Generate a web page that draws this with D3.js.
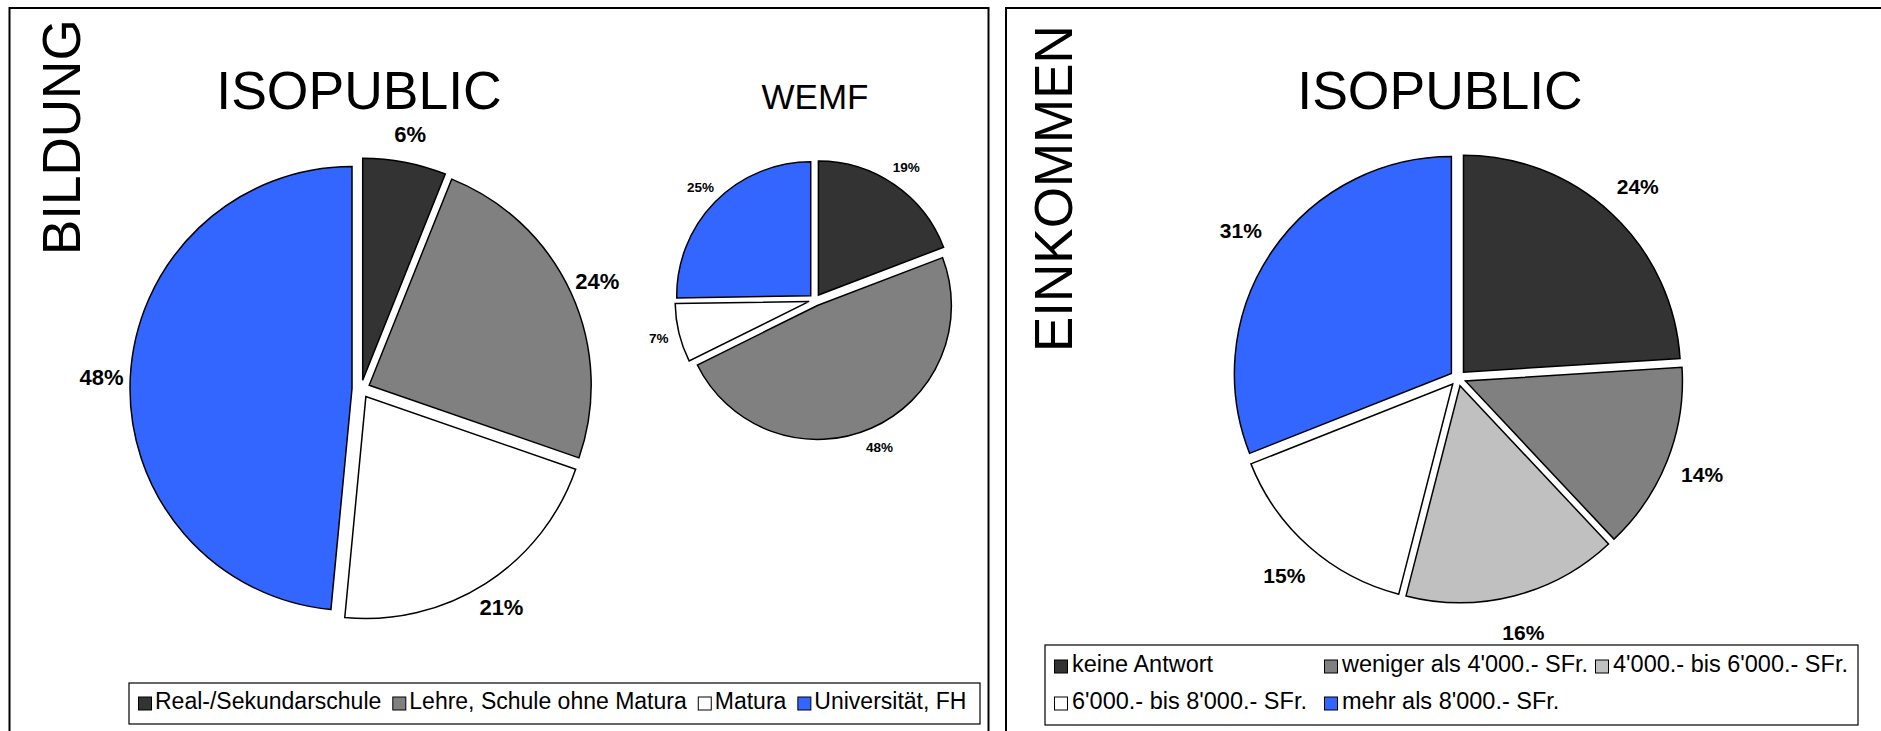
<!DOCTYPE html>
<html>
<head>
<meta charset="utf-8">
<script src="https://cdn.jsdelivr.net/npm/d3@7"></script>
<style>
  body { margin: 0; background: #fff; }
  svg { display: block; font-family: "Liberation Sans", Arial, sans-serif; }
</style>
</head>
<body>
<svg id="chart" width="1881" height="731"></svg>
<script>
// ---- data ----
const bildungCats = ["Real-/Sekundarschule", "Lehre, Schule ohne Matura", "Matura", "Universität, FH"];
const bildungColors = ["#333333", "#808080", "#ffffff", "#3366ff"];
const isopublicBildung = [6, 24, 21, 48];
const wemfBildung = [19, 48, 7, 25];

const einkommenCats = ["keine Antwort", "weniger als 4'000.- SFr.", "4'000.- bis 6'000.- SFr.",
                       "6'000.- bis 8'000.- SFr.", "mehr als 8'000.- SFr."];
const einkommenColors = ["#333333", "#808080", "#c0c0c0", "#ffffff", "#3366ff"];
const isopublicEinkommen = [24, 14, 16, 15, 31];

const svg = d3.select("#chart");

// panel frames
svg.append("rect").attr("x", 9.5).attr("y", 8).attr("width", 979).attr("height", 760)
    .attr("fill", "none").attr("stroke", "#000").attr("stroke-width", 2);
svg.append("rect").attr("x", 1006).attr("y", 8).attr("width", 900).attr("height", 760)
    .attr("fill", "none").attr("stroke", "#000").attr("stroke-width", 2);

// vertical panel titles
svg.append("text")
    .attr("transform", "translate(80,255) rotate(-90)")
    .style("font-size", "53px")
    .text("BILDUNG");
svg.append("text")
    .attr("transform", "translate(1072,352) rotate(-90)")
    .style("font-size", "53px")
    .text("EINKOMMEN");

// pie titles
function title(x, y, size, txt) {
    svg.append("text")
        .attr("x", x).attr("y", y)
        .attr("text-anchor", "middle")
        .style("font-size", size + "px")
        .text(txt);
}
title(359, 109, 53.5, "ISOPUBLIC");
title(815, 109, 35, "WEMF");
title(1440, 109, 53.5, "ISOPUBLIC");

// exploded pie with outside labels
function drawPie(values, colors, cx, cy, r, explode, labelSize, labelFactor) {
    const pie = d3.pie().sort(null).value(d => d);
    const arcs = pie(values);
    const arc = d3.arc().innerRadius(0).outerRadius(r);
    const labelR = r * labelFactor;
    const labelArc = d3.arc().innerRadius(labelR).outerRadius(labelR);
    const g = svg.append("g").attr("transform", `translate(${cx},${cy})`);

    g.selectAll("path")
        .data(arcs)
        .join("path")
        .attr("transform", d => {
            const a = (d.startAngle + d.endAngle) / 2;
            return `translate(${explode * Math.sin(a)},${-explode * Math.cos(a)})`;
        })
        .attr("d", arc)
        .attr("fill", (d, i) => colors[i])
        .attr("stroke", "#000")
        .attr("stroke-width", 1.5);

    g.selectAll("text")
        .data(arcs)
        .join("text")
        .attr("x", d => labelArc.centroid(d)[0])
        .attr("y", d => labelArc.centroid(d)[1] + labelSize * 0.36)
        .attr("text-anchor", "middle")
        .style("font-size", labelSize + "px")
        .style("font-weight", "bold")
        .text(d => d.data + "%");
}

drawPie(isopublicBildung, bildungColors, 361, 389, 222, 9, 22, 1.17);
drawPie(wemfBildung, bildungColors, 815, 300, 134, 6, 13.5, 1.2);
drawPie(isopublicEinkommen, einkommenColors, 1458, 378, 217, 8, 21, 1.21);

// legend helpers
function swatch(x, y, color) {
    svg.append("rect")
        .attr("x", x).attr("y", y).attr("width", 13).attr("height", 13)
        .attr("fill", color).attr("stroke", "#000").attr("stroke-width", 1);
}

// left legend: one row, items laid out one after the other
svg.append("rect").attr("x", 129).attr("y", 683).attr("width", 851).attr("height", 41)
    .attr("fill", "#fff").attr("stroke", "#000").attr("stroke-width", 1.2);
let lx = 138;
bildungCats.forEach((c, i) => {
    swatch(lx + 0.5, 697, bildungColors[i]);
    const t = svg.append("text")
        .attr("x", lx + 17).attr("y", 709)
        .style("font-size", "23px")
        .text(c);
    lx += 17 + t.node().getComputedTextLength() + 11;
});

// right legend: two rows, three columns
svg.append("rect").attr("x", 1045).attr("y", 645).attr("width", 813).attr("height", 80)
    .attr("fill", "#fff").attr("stroke", "#000").attr("stroke-width", 1.2);
const colX = [1054, 1324, 1595];
const rowY = [672, 709];
einkommenCats.forEach((c, i) => {
    const x = colX[i % 3], y = rowY[Math.floor(i / 3)];
    swatch(x + 0.5, y - 12, einkommenColors[i]);
    svg.append("text")
        .attr("x", x + 18).attr("y", y)
        .style("font-size", "23.5px")
        .text(c);
});
</script>
</body>
</html>
